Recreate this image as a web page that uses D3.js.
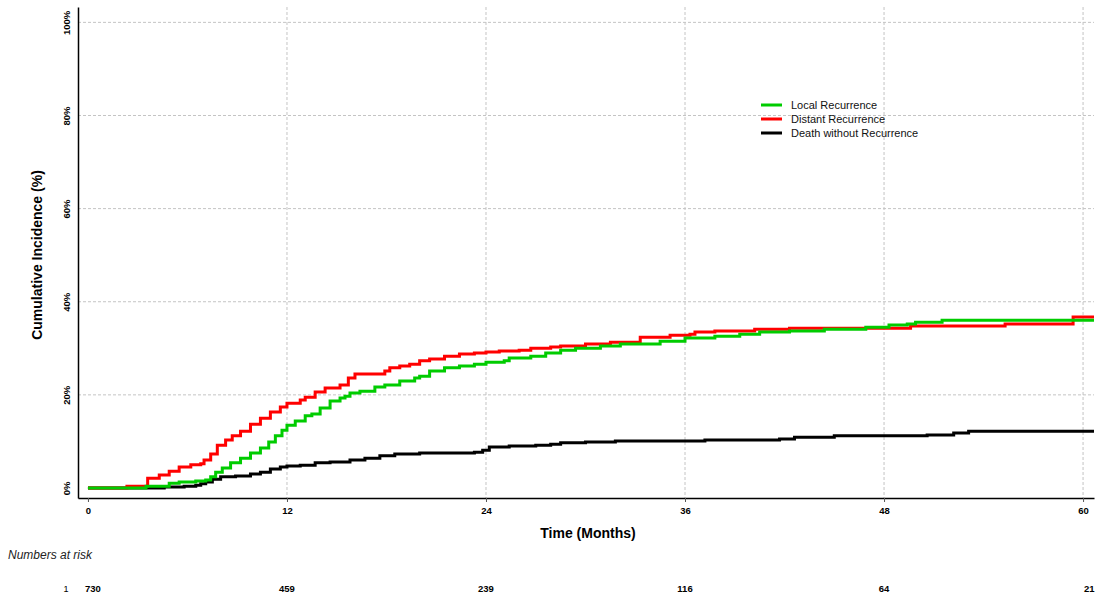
<!DOCTYPE html>
<html lang="en">
<head>
<meta charset="UTF-8">
<title>Cumulative Incidence</title>
<script src="https://d3js.org/d3.v7.min.js"></script>
<style>
  body { margin: 0; background: #fff; }
  text { font-family: "Liberation Sans", Arial, sans-serif; }
</style>
</head>
<body>
<svg id="chart" width="1099" height="598"></svg>
<script>
// cumulative incidence step curves (months, percent)
var localMonths = [0,3.5,4.9,5.5,6.5,7.1,7.4,7.7,8.1,8.6,9.2,9.8,10.4,10.9,11.3,11.7,12.0,12.5,13.1,13.5,14.0,14.6,15.2,15.5,15.8,16.4,17.3,17.9,18.8,19.7,20.0,20.6,21.5,22.4,23.3,24.0,25.1,25.4,26.7,27.6,28.5,29.4,30.9,32.1,34.5,36.0,37.8,39.3,40.5,42.3,44.4,46.9,48.3,49.4,49.9,51.5];
var localPct    = [0,0.4,1.0,1.3,1.5,1.7,2.4,3.4,4.3,5.4,6.4,7.5,8.6,9.9,11.2,12.4,13.5,14.4,15.5,15.9,17.2,18.7,19.3,19.7,20.4,20.8,21.7,22.1,23.0,23.6,24.0,25.1,25.8,26.2,26.6,27.0,27.3,27.9,28.3,29.0,29.6,30.0,30.5,30.9,31.5,32.2,32.6,33.0,33.5,33.7,34.1,34.5,35.0,35.2,35.6,36.0];

var distantMonths = [0,2.35,3.6,4.3,4.9,5.5,6.2,6.8,7.0,7.4,7.8,8.3,8.7,9.2,9.8,10.4,11.0,11.6,12.0,12.8,13.1,13.7,14.3,15.2,15.7,16.1,17.9,18.2,18.8,19.4,20.0,20.6,21.5,22.4,23.3,24.0,24.8,26.0,26.7,27.9,28.5,30.0,31.5,33.3,35.1,36.3,36.6,37.8,40.2,42.3,49.6,55.3,59.4];
var distantPct    = [0,0.4,2.1,2.8,3.6,4.5,5.0,5.2,6.0,7.3,9.2,10.3,11.2,12.2,13.7,15.0,16.3,17.4,18.2,18.9,19.5,20.6,21.5,22.1,23.6,24.5,25.1,25.8,26.2,26.6,27.3,27.7,28.3,28.8,29.0,29.2,29.4,29.6,30.0,30.3,30.5,30.9,31.3,32.4,32.8,33.0,33.5,33.7,34.1,34.3,34.8,35.2,36.7];

var deathMonths = [0,4.6,5.8,6.5,6.8,7.1,7.5,8.0,8.9,9.8,10.4,11.0,11.6,12.0,12.8,13.7,14.6,15.8,16.7,17.6,18.5,20.0,23.3,23.8,24.2,25.4,27.0,27.9,28.5,30.0,31.8,37.2,41.7,42.6,45.0,50.6,52.2,53.1];
var deathPct    = [0,0.2,0.4,0.6,0.9,1.3,1.9,2.4,2.6,3.0,3.4,4.1,4.5,4.7,4.9,5.4,5.6,6.0,6.4,6.9,7.3,7.5,7.7,8.1,8.8,9.0,9.2,9.4,9.7,9.9,10.1,10.3,10.5,10.9,11.2,11.4,11.8,12.2];

var seriesNames = ['Local Recurrence', 'Distant Recurrence', 'Death without Recurrence'];
var seriesColors = ['#00cc00', '#ff0000', '#000000'];

var xTicks = [0, 12, 24, 36, 48, 60];
var yTicks = [0, 20, 40, 60, 80, 100];
var atRisk = [730, 459, 239, 116, 64, 21];

var svg = d3.select('#chart');

var x = d3.scaleLinear().domain([-0.6, 60.66]).range([78, 1094]);
var y = d3.scaleLinear().domain([-2.15, 103.3]).range([498, 7]);

// grid
svg.selectAll('.vgrid')
    .data(xTicks.filter(function (d) { return d > 0; }))
    .enter().append('line')
    .attr('x1', function (d) { return x(d); })
    .attr('x2', function (d) { return x(d); })
    .attr('y1', y.range()[1]).attr('y2', y.range()[0])
    .attr('stroke', '#c4c4c4').attr('stroke-dasharray', '3,2').attr('stroke-width', 1);

svg.selectAll('.hgrid')
    .data(yTicks.filter(function (d) { return d > 0; }))
    .enter().append('line')
    .attr('x1', x.range()[0]).attr('x2', x.range()[1])
    .attr('y1', function (d) { return y(d); })
    .attr('y2', function (d) { return y(d); })
    .attr('stroke', '#c4c4c4').attr('stroke-dasharray', '3,2').attr('stroke-width', 1);

// axes
var xAxis = svg.append('g')
    .attr('transform', 'translate(0,498)')
    .call(d3.axisBottom(x).tickValues(xTicks).tickSize(4).tickSizeOuter(0).tickFormat(d3.format('d')));
xAxis.select('.domain').attr('stroke', '#000').attr('stroke-width', 1.5);
xAxis.selectAll('.tick line').attr('stroke', '#555');
xAxis.selectAll('.tick text')
    .attr('font-family', '"Liberation Sans", Arial, sans-serif')
    .attr('font-size', '9.5px').attr('font-weight', 'bold').attr('fill', '#000')
    .attr('dy', '0.9em');

var yAxis = svg.append('g')
    .attr('transform', 'translate(78,0)')
    .call(d3.axisLeft(y).tickValues(yTicks).tickSize(0).tickSizeOuter(0).tickFormat(function (d) { return d + '%'; }));
yAxis.select('.domain').attr('stroke', '#000').attr('stroke-width', 1.5);
yAxis.selectAll('.tick text')
    .attr('font-family', '"Liberation Sans", Arial, sans-serif')
    .attr('font-size', '9.5px').attr('font-weight', 'bold').attr('fill', '#000')
    .attr('text-anchor', 'middle')
    .attr('x', 0).attr('dy', 0)
    .attr('transform', 'translate(-8,0) rotate(-90)');

// curves
var line = d3.line()
    .x(function (d) { return x(d[0]); })
    .y(function (d) { return y(d[1]); })
    .curve(d3.curveStepAfter);

function pairs(ms, vs) {
    var p = ms.map(function (m, i) { return [m, vs[i]]; });
    p.push([60.66, vs[vs.length - 1]]);
    return p;
}

var curves = [
    { data: pairs(deathMonths, deathPct), color: seriesColors[2] },
    { data: pairs(distantMonths, distantPct), color: seriesColors[1] },
    { data: pairs(localMonths, localPct), color: seriesColors[0] }
];

svg.selectAll('.curve')
    .data(curves)
    .enter().append('path')
    .attr('d', function (d) { return line(d.data); })
    .attr('fill', 'none')
    .attr('stroke', function (d) { return d.color; })
    .attr('stroke-width', 3);

// axis titles
svg.append('text')
    .attr('transform', 'translate(42,255) rotate(-90)')
    .attr('text-anchor', 'middle')
    .attr('font-size', '14px').attr('font-weight', 'bold')
    .text('Cumulative Incidence (%)');

svg.append('text')
    .attr('x', 588).attr('y', 538)
    .attr('text-anchor', 'middle')
    .attr('font-size', '14px').attr('font-weight', 'bold')
    .text('Time (Months)');

// legend
var legend = svg.selectAll('.legend')
    .data(seriesNames)
    .enter().append('g')
    .attr('transform', function (d, i) { return 'translate(761,' + (105 + i * 14) + ')'; });
legend.append('line')
    .attr('x1', 0).attr('x2', 21).attr('y1', 0).attr('y2', 0)
    .attr('stroke', function (d, i) { return seriesColors[i]; })
    .attr('stroke-width', 3);
legend.append('text')
    .attr('x', 30).attr('y', 4)
    .attr('font-size', '11px').attr('fill', '#111')
    .text(function (d) { return d; });

// numbers at risk
svg.append('text')
    .attr('x', 8).attr('y', 559)
    .attr('font-size', '12px').attr('font-style', 'italic').attr('fill', '#222')
    .text('Numbers at risk');

svg.append('text')
    .attr('x', 66).attr('y', 592)
    .attr('font-size', '9px').attr('text-anchor', 'middle').attr('fill', '#000')
    .text('1');

svg.selectAll('.risk')
    .data(atRisk)
    .enter().append('text')
    .attr('x', function (d, i) {
        if (i === 0) return x(xTicks[i]) - 3;
        if (i === atRisk.length - 1) return x(xTicks[i]) + 1;
        return x(xTicks[i]);
    })
    .attr('y', 592)
    .attr('text-anchor', function (d, i) { return (i === 0 || i === atRisk.length - 1) ? 'start' : 'middle'; })
    .attr('font-size', '9.5px').attr('font-weight', 'bold').attr('fill', '#000')
    .text(function (d) { return d; });
</script>
</body>
</html>
